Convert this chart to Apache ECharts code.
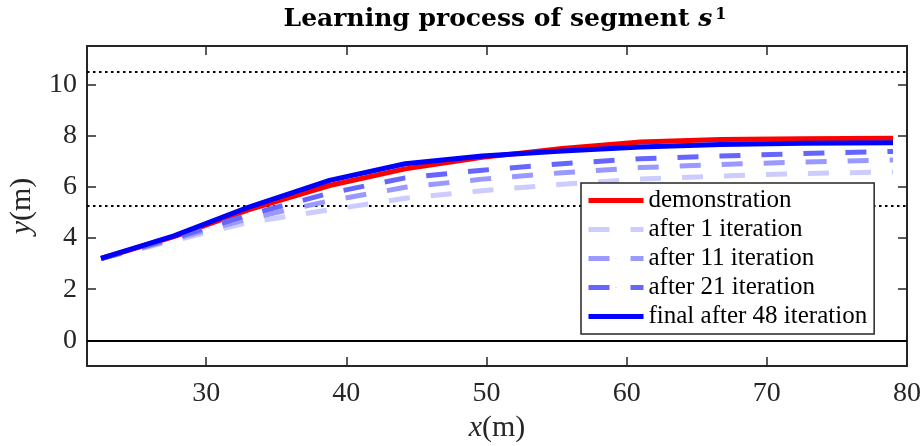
<!DOCTYPE html>
<html><head><meta charset="utf-8">
<script src="https://cdn.jsdelivr.net/npm/echarts@6/dist/echarts.min.js"></script>
<style>html,body{margin:0;padding:0;background:#fff}#c{width:922px;height:446px}</style>
</head><body><div id="c"></div>
<script>
// x positions (m) of the sampled trajectory points
const xPos = [22.5, 27.7, 33.0, 38.8, 44.2, 49.7, 55.4, 61.0, 66.7, 72.5, 79.0];
// lateral positions y (m)
const demonstration = [3.2, 4.05, 5.10, 6.05, 6.70, 7.15, 7.50, 7.75, 7.85, 7.88, 7.90];
const after1       = [3.2, 3.90, 4.60, 5.10, 5.55, 5.85, 6.10, 6.30, 6.42, 6.52, 6.58];
const after11      = [3.2, 3.95, 4.75, 5.45, 5.98, 6.30, 6.55, 6.75, 6.87, 6.97, 7.05];
const after21      = [3.2, 4.00, 4.90, 5.75, 6.35, 6.65, 6.90, 7.10, 7.20, 7.30, 7.38];
const final48      = [3.2, 4.08, 5.20, 6.25, 6.90, 7.20, 7.40, 7.55, 7.65, 7.70, 7.72];
// tick labels
const xTicks = [30, 40, 50, 60, 70, 80];
const yTicks = [0, 2, 4, 6, 8, 10];
// lane boundary reference lines
const laneDotted = [5.25, 10.5];
const laneSolid = [0];

const FONT = 'Liberation Serif';
const TFONT = 'DejaVu Serif';
const AX = '#262626';
const pair = ys => xPos.map((x, i) => [x, ys[i]]);

const chart = echarts.init(document.getElementById('c'));
const tickCommon = { inside: true, length: 9, lineStyle: { color: AX, width: 1.5 } };
chart.setOption({
  animation: false,
  backgroundColor: '#fff',
  title: {
    text: '{b|Learning process of segment }{i|s}{sup|1}',
    left: 500, top: 2, textAlign: 'center',
    textStyle: {
      rich: {
        b: { fontFamily: TFONT, fontWeight: 'bold', fontSize: 25, color: '#000' },
        i: { fontFamily: TFONT, fontStyle: 'italic', fontSize: 25, color: '#000' },
        sup: { fontFamily: TFONT, fontSize: 16, color: '#000', verticalAlign: 'top', padding: [0, 0, 4, 3] }
      }
    }
  },
  grid: { left: 87, right: 15, top: 46, bottom: 80, containLabel: false, outerBoundsMode: 'none' },
  legend: {
    orient: 'vertical', left: 581, top: 183, z: 20,
    itemWidth: 55, itemHeight: 1, itemGap: 4,
    lineStyle: { width: 5 },
    backgroundColor: '#fff', borderColor: AX, borderWidth: 1.5, borderRadius: 0,
    padding: [5, 7, 5, 5],
    textStyle: { fontFamily: FONT, fontSize: 25, color: '#000' },
    data: ['demonstration', 'after 1 iteration', 'after 11 iteration', 'after 21 iteration', 'final after 48 iteration']
  },
  xAxis: [{
    type: 'value', min: 21.5, max: 80, position: 'bottom',
    axisLine: { onZero: false, lineStyle: { color: AX, width: 2 } },
    axisTick: Object.assign({ customValues: xTicks }, tickCommon),
    axisLabel: { customValues: xTicks, fontFamily: FONT, fontSize: 28, color: AX, margin: 14 },
    splitLine: { show: false },
    name: '{i|x}{n|(m)}', nameLocation: 'middle', nameGap: 46,
    nameTextStyle: { rich: {
      i: { fontFamily: FONT, fontStyle: 'italic', fontSize: 30, color: AX },
      n: { fontFamily: FONT, fontSize: 30, color: AX } } }
  }, {
    type: 'value', min: 21.5, max: 80, position: 'top',
    axisLine: { onZero: false, lineStyle: { color: AX, width: 2 } },
    axisTick: Object.assign({ customValues: xTicks }, tickCommon),
    axisLabel: { show: false }, splitLine: { show: false }
  }],
  yAxis: [{
    type: 'value', min: -1, max: 11.5, position: 'left',
    axisLine: { show: true, onZero: false, lineStyle: { color: AX, width: 2 } },
    axisTick: Object.assign({ show: true, customValues: yTicks }, tickCommon),
    axisLabel: { customValues: yTicks, fontFamily: FONT, fontSize: 28, color: AX, margin: 10 },
    splitLine: { show: false },
    name: '{i|y}{n|(m)}', nameLocation: 'middle', nameGap: 50, nameRotate: 90,
    nameTextStyle: { rich: {
      i: { fontFamily: FONT, fontStyle: 'italic', fontSize: 30, color: AX },
      n: { fontFamily: FONT, fontSize: 30, color: AX } } }
  }, {
    type: 'value', min: -1, max: 11.5, position: 'right',
    axisLine: { show: true, onZero: false, lineStyle: { color: AX, width: 2 } },
    axisTick: Object.assign({ show: true, customValues: yTicks }, tickCommon),
    axisLabel: { show: false }, splitLine: { show: false }
  }],
  series: [
    {
      name: 'demonstration', type: 'line', data: pair(demonstration), symbol: 'none',
      lineStyle: { color: '#ff0000', width: 5 }, itemStyle: { color: '#ff0000' },
      markLine: {
        silent: true, symbol: 'none', label: { show: false }, z: 1,
        data: laneDotted.map(v => ({ yAxis: v, lineStyle: { type: [2.5, 3.5], color: '#000', width: 2 } }))
          .concat(laneSolid.map(v => ({ yAxis: v, lineStyle: { type: 'solid', color: '#000', width: 2 } })))
      }
    },
    { name: 'after 1 iteration', type: 'line', data: pair(after1), symbol: 'none',
      lineStyle: { color: '#ccccff', width: 5, type: [21, 21] }, itemStyle: { color: '#ccccff' } },
    { name: 'after 11 iteration', type: 'line', data: pair(after11), symbol: 'none',
      lineStyle: { color: '#9999ff', width: 5, type: [21, 21] }, itemStyle: { color: '#9999ff' } },
    { name: 'after 21 iteration', type: 'line', data: pair(after21), symbol: 'none',
      lineStyle: { color: '#6666ff', width: 5, type: [21, 21] }, itemStyle: { color: '#6666ff' } },
    { name: 'final after 48 iteration', type: 'line', data: pair(final48), symbol: 'none',
      lineStyle: { color: '#0000ff', width: 5 }, itemStyle: { color: '#0000ff' } }
  ]
});
</script></body></html>
